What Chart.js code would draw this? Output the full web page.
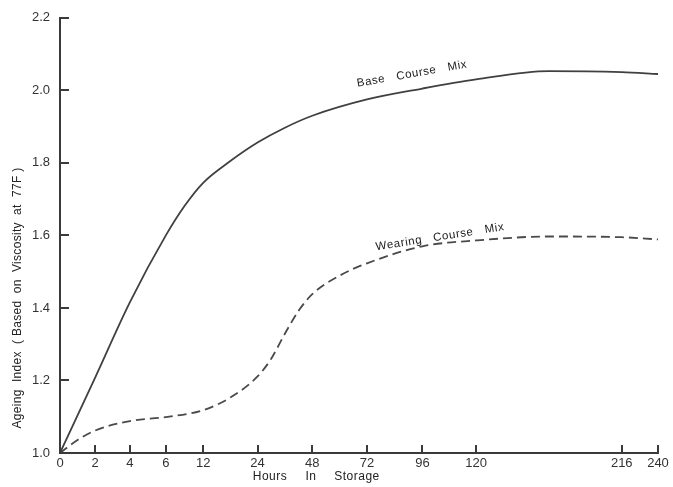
<!DOCTYPE html>
<html>
<head>
<meta charset="utf-8">
<script src="https://cdn.jsdelivr.net/npm/chart.js@4/dist/chart.umd.min.js"></script>
<style>
  html, body { margin: 0; padding: 0; background: #ffffff; }
  #wrap { width: 673px; height: 487px; position: relative; }
</style>
</head>
<body>
<div id="wrap"><canvas id="chart" width="673" height="487"></canvas></div>
<script>
// Storage time axis: hours shown at the ticks and where each tick sits on the (non-uniform) axis
const hourTicks = [0, 2, 4, 6, 12, 24, 48, 72, 96, 120, 216, 240];
const tickSlots = [0, 0.97, 1.93, 2.92, 3.95, 5.45, 6.96, 8.47, 10.0, 11.48, 15.5, 16.5];

// Ageing index axis ticks
const indexTicks = [1.0, 1.2, 1.4, 1.6, 1.8, 2.0, 2.2];

// Base course mix
const baseHours = [0, 2, 4, 6, 9, 12, 18, 24, 36, 48, 72, 96, 120, 168, 216, 240];
const baseIndex = [1.0, 1.208, 1.416, 1.60, 1.681, 1.745, 1.805, 1.856, 1.897, 1.93, 1.975, 2.005, 2.03, 2.053, 2.05, 2.045];

// Wearing course mix
const wearHours = [0, 1, 2, 4, 6, 12, 18, 24, 30, 36, 42, 48, 60, 72, 96, 120, 168, 216, 240];
const wearIndex = [1.0, 1.036, 1.062, 1.088, 1.099, 1.118, 1.153, 1.211, 1.26, 1.329, 1.392, 1.438, 1.489, 1.523, 1.57, 1.586, 1.597, 1.595, 1.589];

// piecewise-linear map from hours to the axis position used by the x scale
function hourToSlot(h) {
  for (let i = 0; i < hourTicks.length - 1; i++) {
    const h0 = hourTicks[i], h1 = hourTicks[i + 1];
    if (h >= h0 && h <= h1) {
      return tickSlots[i] + (h - h0) / (h1 - h0) * (tickSlots[i + 1] - tickSlots[i]);
    }
  }
  return tickSlots[tickSlots.length - 1];
}

const toPoints = (hours, vals) => hours.map((h, i) => ({ x: hourToSlot(h), y: vals[i] }));

const INK = '#3a3a3a';
const FONT = '"Liberation Sans", Arial, sans-serif';

// inward tick marks on both axes
const innerTicks = {
  id: 'innerTicks',
  afterDatasetsDraw(chart) {
    const ctx = chart.ctx;
    const xs = chart.scales.x, ys = chart.scales.y;
    const area = chart.chartArea;
    ctx.save();
    ctx.strokeStyle = INK;
    ctx.lineWidth = 2;
    ctx.beginPath();
    xs.ticks.forEach(t => {
      const px = Math.round(xs.getPixelForValue(t.value));
      ctx.moveTo(px, area.bottom);
      ctx.lineTo(px, area.bottom - 8);
    });
    ys.ticks.forEach(t => {
      const py = Math.round(ys.getPixelForValue(t.value));
      ctx.moveTo(area.left, py);
      ctx.lineTo(area.left + 9, py);
    });
    ctx.stroke();
    ctx.restore();
  }
};

// curve names, axis titles
const annotations = {
  id: 'annotations',
  afterDraw(chart) {
    const ctx = chart.ctx;
    ctx.save();
    ctx.fillStyle = '#222';
    ctx.textAlign = 'center';
    ctx.textBaseline = 'middle';

    ctx.font = '11.5px ' + FONT;
    ctx.letterSpacing = '0.6px';

    ctx.save();
    ctx.translate(412, 74);
    ctx.rotate(-10 * Math.PI / 180);
    ctx.fillText('Base   Course   Mix', 0, 0);
    ctx.restore();

    ctx.save();
    ctx.translate(440, 237);
    ctx.rotate(-9 * Math.PI / 180);
    ctx.fillText('Wearing   Course   Mix', 0, 0);
    ctx.restore();

    // y axis title
    ctx.save();
    ctx.font = '12px ' + FONT;
    ctx.letterSpacing = '0.3px';
    ctx.translate(18, 298);
    ctx.rotate(-Math.PI / 2);
    ctx.fillText('Ageing  Index  ( Based  on  Viscosity  at  77F )', 0, 0);
    ctx.restore();

    // x axis title
    ctx.font = '12px ' + FONT;
    ctx.letterSpacing = '0.5px';
    ctx.fillText('Hours', 270, 477);
    ctx.fillText('In', 311, 477);
    ctx.fillText('Storage', 357, 477);

    ctx.restore();
  }
};

new Chart(document.getElementById('chart'), {
  type: 'line',
  data: {
    datasets: [
      {
        label: 'Base Course Mix',
        data: toPoints(baseHours, baseIndex),
        borderColor: '#404040',
        borderWidth: 1.8,
        pointRadius: 0,
        fill: false,
        cubicInterpolationMode: 'monotone'
      },
      {
        label: 'Wearing Course Mix',
        data: toPoints(wearHours, wearIndex),
        borderColor: '#4a4a4a',
        borderWidth: 1.8,
        borderDash: [9, 5],
        pointRadius: 0,
        fill: false,
        cubicInterpolationMode: 'monotone'
      }
    ]
  },
  options: {
    responsive: false,
    animation: false,
    layout: { padding: { top: 15, right: 15, left: 0, bottom: 0 } },
    plugins: {
      legend: { display: false },
      tooltip: { enabled: false }
    },
    scales: {
      x: {
        type: 'linear',
        min: 0,
        max: tickSlots[tickSlots.length - 1],
        afterBuildTicks: s => { s.ticks = tickSlots.map(v => ({ value: v })); },
        afterFit: s => { s.height = 34; },
        grid: { display: false, drawTicks: false },
        border: { display: true, color: INK, width: 2 },
        ticks: {
          autoSkip: false,
          maxRotation: 0,
          padding: 3,
          color: '#333',
          font: { family: FONT, size: 13 },
          callback: (v, i) => String(hourTicks[i])
        }
      },
      y: {
        type: 'linear',
        min: indexTicks[0],
        max: indexTicks[indexTicks.length - 1],
        afterBuildTicks: s => { s.ticks = indexTicks.map(v => ({ value: v })); },
        afterFit: s => { s.width = 60; },
        grid: { display: false, drawTicks: false },
        border: { display: true, color: INK, width: 2 },
        ticks: {
          padding: 10,
          color: '#333',
          font: { family: FONT, size: 13 },
          callback: v => Number(v).toFixed(1)
        }
      }
    }
  },
  plugins: [innerTicks, annotations]
});
</script>
</body>
</html>
